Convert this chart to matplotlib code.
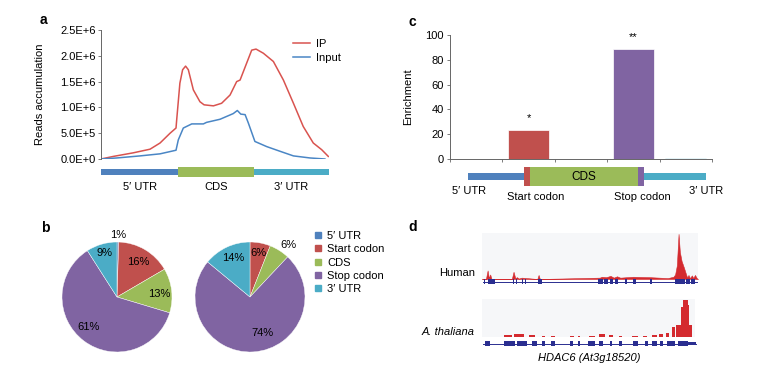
import numpy as np
import matplotlib
matplotlib.use('Agg')
import matplotlib.pyplot as plt
from matplotlib.lines import Line2D

plt.rcParams['font.family'] = ['Liberation Sans', 'DejaVu Sans']
plt.rcParams['font.size'] = 8

W, H = 762, 377

# colours (office palette)
c_blue, c_red, c_green, c_purple, c_cyan = '#4f81bd', '#c0504d', '#9bbb59', '#8064a2', '#4bacc6'

# ---- panel a: metagene profile (x = relative position 0-100, y in 1e6 reads)
ip_x = [0, 5.4, 14.2, 21.5, 25.9, 30.3, 32.9, 33.2, 34.6, 35.8, 37.1, 38.3, 40.5, 43.4, 45.2, 49.3,
        52.9, 56.6, 59.5, 61.0, 63.9, 66.1, 68.0, 71.2, 75.6, 80.0, 84.4, 88.7, 93.1, 96.8, 99.7]
ip_y = [0, 0.05, 0.12, 0.19, 0.31, 0.50, 0.60, 0.76, 1.47, 1.73, 1.80, 1.73, 1.34, 1.11, 1.05, 1.03,
        1.08, 1.24, 1.50, 1.53, 1.86, 2.11, 2.13, 2.05, 1.89, 1.53, 1.08, 0.63, 0.31, 0.18, 0.05]
inp_x = [0, 6.9, 17.1, 25.9, 32.9, 33.9, 36.1, 39.8, 44.9, 46.3, 52.2, 58.0, 59.8, 61.3, 63.2, 64.6,
         67.5, 72.7, 78.5, 84.4, 91.7, 98.2]
inp_y = [0, 0.02, 0.06, 0.10, 0.17, 0.37, 0.60, 0.68, 0.68, 0.71, 0.77, 0.88, 0.94, 0.87, 0.86, 0.70,
         0.34, 0.24, 0.15, 0.06, 0.02, 0]
a_yticks = [0, 0.5, 1.0, 1.5, 2.0, 2.5]
a_yticklabels = ['0.0E+0', '5.0E+5', '1.0E+6', '1.5E+6', '2.0E+6', '2.5E+6']
a_regions = ['5\u2032 UTR', 'CDS', '3\u2032 UTR']
a_edges = [0, 33.9, 67.1, 100]

# ---- panel b: pies
pie_labels = ['5\u2032 UTR', 'Start codon', 'CDS', 'Stop codon', '3\u2032 UTR']
pie_left = [0.5, 16, 13, 61, 9]
pie_left_txt = ['1%', '16%', '13%', '61%', '9%']
pie_right = [0, 6, 6, 74, 14]
pie_right_txt = ['', '6%', '6%', '74%', '14%']

# ---- panel c: enrichment
c_cats = ['5\u2032 UTR', 'Start codon', 'CDS', 'Stop codon', '3\u2032 UTR']
c_vals = [0, 23.7, 0, 89, 0.8]
c_stars = ['', '*', '', '**', '']
c_edges = [0, 23.5, 26.1, 71.4, 73.9, 100]

# ---- panel d: browser tracks
hum_peaks = [(0, 0), (1.8, 0), (2.6, 0.19), (3.2, 0.02), (3.8, 0.1), (4.4, 0), (13.8, 0), (14.6, 0.16),
             (15.4, 0.02), (16.2, 0.04), (17.0, 0.01), (18.4, 0.03), (25.6, 0), (26.2, 0.09), (26.8, 0),
             (54.5, 0.03), (55.5, 0.05), (57.5, 0.04), (59.5, 0.07), (61.0, 0.03), (62.5, 0.06),
             (64.0, 0.03), (70.0, 0.05), (78.0, 0.04), (86.0, 0.02), (88.6, 0.05), (89.4, 0.1),
             (90.2, 0.3), (91.0, 1.0), (91.6, 0.6), (92.4, 0.4), (93.5, 0.25), (94.5, 0.1), (95.0, 0.03),
             (95.6, 0.09), (96.2, 0.02), (97.2, 0.08), (97.8, 0.02), (98.6, 0.09), (99.4, 0.02), (100, 0)]
ath_blocks = [(10.2, 14.1, 0.06), (14.8, 19.8, 0.09), (22.3, 25.0, 0.05), (28.1, 29.7, 0.03),
              (32.3, 34.4, 0.03), (41.4, 43.0, 0.03), (45.3, 46.1, 0.03), (50.0, 53.1, 0.03),
              (54.7, 57.8, 0.07), (59.8, 61.4, 0.05), (64.1, 65.6, 0.04), (70.3, 73.4, 0.03),
              (75.8, 77.3, 0.04), (79.7, 82.0, 0.06), (83.3, 85.2, 0.08), (86.4, 88.0, 0.1),
              (89.1, 90.6, 0.27), (91.2, 93.4, 0.32), (93.4, 94.2, 0.8), (94.2, 96.6, 1.0),
              (96.6, 97.4, 0.85), (97.4, 98.8, 0.33)]
hum_exons = [(0.8, 1.5), (2.6, 6.2), (14.3, 14.9), (15.7, 16.2), (18.5, 19.2), (19.7, 20.5), (25.8, 27.7),
             (53.8, 55.8), (56.5, 58.5), (59.2, 60.8), (61.5, 63.1), (66.2, 67.2), (69.7, 71.2),
             (77.7, 78.9), (89.2, 93.8), (94.3, 96.2), (96.9, 98.5)]
ath_exons = [(1.5, 3.8), (10.0, 15.4), (16.2, 20.8), (23.1, 25.4), (27.7, 29.2), (31.8, 33.8), (40.8, 42.3),
             (44.6, 45.4), (49.2, 52.3), (54.2, 56.2), (59.2, 60.3), (63.5, 64.6), (70.0, 72.3),
             (75.4, 76.9), (78.9, 80.8), (82.3, 83.8), (85.7, 89.2), (90.8, 95.4)]
ath_utr = (95.4, 98.9)


fig = plt.figure(figsize=(W / 100, H / 100), dpi=100)


def add_px(x0, y0, x1, y1, **kw):
    return fig.add_axes([x0 / W, 1 - y1 / H, (x1 - x0) / W, (y1 - y0) / H], **kw)


def ftext(x, y, s, **kw):
    fig.text(x / W, 1 - y / H, s, **kw)


def clean(ax):
    for s in ax.spines.values():
        s.set_visible(False)
    ax.set_xticks([])
    ax.set_yticks([])


# panel a
ax = add_px(101, 30, 329, 159)
ax.plot(ip_x, ip_y, color='#d9534f', lw=1.1, label='IP')
ax.plot(inp_x, inp_y, color='#4a86c5', lw=1.1, label='Input')
ax.axhline(0, color='0.35', lw=0.7, ls=(0, (1, 1)))
ax.set_xlim(0, 100)
ax.set_ylim(0, 2.5)
ax.set_yticks(a_yticks)
ax.set_yticklabels(a_yticklabels)
ax.set_xticks([])
for s in ['top', 'right', 'bottom']:
    ax.spines[s].set_visible(False)
ax.spines['left'].set_color('0.4')
ax.spines['left'].set_linewidth(0.7)
ax.tick_params(axis='y', length=2, width=0.6, color='0.4', pad=2, labelsize=8)
ax.set_ylabel('Reads accumulation', fontsize=8)
ax.yaxis.set_label_coords(-0.245, 0.5)
ax.legend(frameon=False, loc='upper left', bbox_to_anchor=(0.84, 0.93), handlelength=1.6,
          handletextpad=0.5, labelspacing=0.35, borderaxespad=0, borderpad=0, fontsize=8)

axs = add_px(101, 163, 329, 181)
clean(axs)
a_cols = [c_blue, c_green, c_cyan]
a_thick = [0.28, 0.56, 0.28]
for i in range(3):
    axs.barh(0.5, a_edges[i + 1] - a_edges[i], left=a_edges[i], height=a_thick[i], color=a_cols[i])
    axs.text((a_edges[i] + a_edges[i + 1]) / 2, -0.33, a_regions[i], ha='center', va='center', fontsize=8)
axs.set_xlim(0, 100)
axs.set_ylim(0, 1)
ftext(43, 20, 'a', fontsize=10, fontweight='bold', ha='center', va='center')

# panel b
pie_cols = [c_blue, c_red, c_green, c_purple, c_cyan]
txt_left = [(0.02, 1.13), (0.38, 0.64), (0.76, 0.05), (-0.51, -0.55), (-0.22, 0.8)]
txt_right = [(0, 0), (0.16, 0.8), (0.69, 0.95), (0.22, -0.65), (-0.31, 0.71)]
for (cx, vals, txts, pos) in [(117, pie_left, pie_left_txt, txt_left), (250, pie_right, pie_right_txt, txt_right)]:
    axp = add_px(cx - 55, 242, cx + 55, 352)
    axp.pie(vals, colors=pie_cols, startangle=90, counterclock=False,
            wedgeprops=dict(edgecolor='white', linewidth=0.3))
    axp.set_xlim(-1, 1)
    axp.set_ylim(-1, 1)
    for t, (tx, ty) in zip(txts, pos):
        if t:
            axp.text(tx, ty, t, ha='center', va='center', fontsize=8, clip_on=False)
handles = [Line2D([], [], marker='s', ls='', color=c, markersize=4) for c in pie_cols]
fig.legend(handles, pie_labels, loc='upper left', bbox_to_anchor=(315 / W, 1 - 231 / H), frameon=False,
           handlelength=0.6, handletextpad=0.5, labelspacing=0.3, borderpad=0, borderaxespad=0, fontsize=8)
ftext(45, 228, 'b', fontsize=10, fontweight='bold', ha='center', va='center')

# panel c
axc = add_px(450, 35, 712, 159)
xs = np.arange(len(c_vals))
axc.bar(xs, c_vals, width=0.78, color=pie_cols, edgecolor='white', linewidth=0.5)
for x, v, s in zip(xs, c_vals, c_stars):
    if s:
        axc.text(x, v + 9, s, ha='center', va='center', fontsize=8)
axc.set_xlim(-0.5, 4.5)
axc.set_ylim(0, 100)
axc.set_yticks(range(0, 101, 20))
axc.set_xticks(np.arange(-0.5, 4.6, 1))
axc.set_xticklabels([])
for s in ['top', 'right']:
    axc.spines[s].set_visible(False)
for s in ['left', 'bottom']:
    axc.spines[s].set_color('0.4')
    axc.spines[s].set_linewidth(0.7)
axc.tick_params(length=2.5, width=0.6, color='0.4', pad=2, labelsize=8)
axc.set_ylabel('Enrichment', fontsize=8)
axc.yaxis.set_label_coords(-0.14, 0.5)
ftext(412, 22, 'c', fontsize=10, fontweight='bold', ha='center', va='center')

axcs = add_px(468, 166, 706, 187)
clean(axcs)
c_thick = [0.29, 0.9, 0.9, 0.9, 0.29]
for i in range(5):
    axcs.barh(0.5, c_edges[i + 1] - c_edges[i], left=c_edges[i], height=c_thick[i], color=pie_cols[i])
axcs.text((c_edges[2] + c_edges[3]) / 2, 0.5, 'CDS', ha='center', va='center', fontsize=8.5)
axcs.text(0.4, -0.19, c_cats[0], ha='center', va='center', fontsize=8)
axcs.text(28.6, -0.48, c_cats[1], ha='center', va='center', fontsize=8)
axcs.text(73.1, -0.48, c_cats[3], ha='center', va='center', fontsize=8)
axcs.text(100, -0.19, c_cats[4], ha='center', va='center', fontsize=8)
axcs.set_xlim(0, 100)
axcs.set_ylim(0, 1)

# panel d
red_trk, navy = '#d42a2f', '#2a2e90'
axh = add_px(482, 233, 698, 279, facecolor='#f6f7f9')
clean(axh)
hx = [p[0] for p in hum_peaks]
hy = [p[1] for p in hum_peaks]
axh.fill_between(hx, 0, hy, color=red_trk, lw=0.4)
axh.axhline(0.01, color=red_trk, lw=0.4, alpha=0.6)
axh.set_xlim(0, 100)
axh.set_ylim(0, 1.02)

axa = add_px(482, 299, 695, 337, facecolor='#f6f7f9')
clean(axa)
for (x0, x1, h) in ath_blocks:
    axa.bar(x0, h, width=x1 - x0, align='edge', color=red_trk, lw=0)
axa.axhline(0.01, color=red_trk, lw=0.4, alpha=0.6)
axa.set_xlim(0, 100)
axa.set_ylim(0, 1.02)

for (y0, y1, exons, line_end) in [(277, 286, hum_exons, 99.5), (339, 348, ath_exons, 98.9)]:
    axg = add_px(482, y0, 698, y1)
    clean(axg)
    axg.set_facecolor('none')
    axg.plot([0.5, line_end], [0.5, 0.5], color=navy, lw=0.7)
    for (x0, x1) in exons:
        axg.barh(0.5, x1 - x0, left=x0, height=0.5, color=navy, lw=0)
    axg.set_xlim(0, 100)
    axg.set_ylim(0, 1)
axg.barh(0.5, ath_utr[1] - ath_utr[0], left=ath_utr[0], height=0.25, color=navy, lw=0)

ftext(475, 273, 'Human', ha='right', va='center', fontsize=8)
ftext(475, 332, 'A. thaliana', ha='right', va='center', fontsize=8, style='italic')
ftext(589, 358, 'HDAC6 (At3g18520)', ha='center', va='center', fontsize=8, style='italic')
ftext(413, 227, 'd', fontsize=10, fontweight='bold', ha='center', va='center')

fig.savefig('out.png', dpi=100)
